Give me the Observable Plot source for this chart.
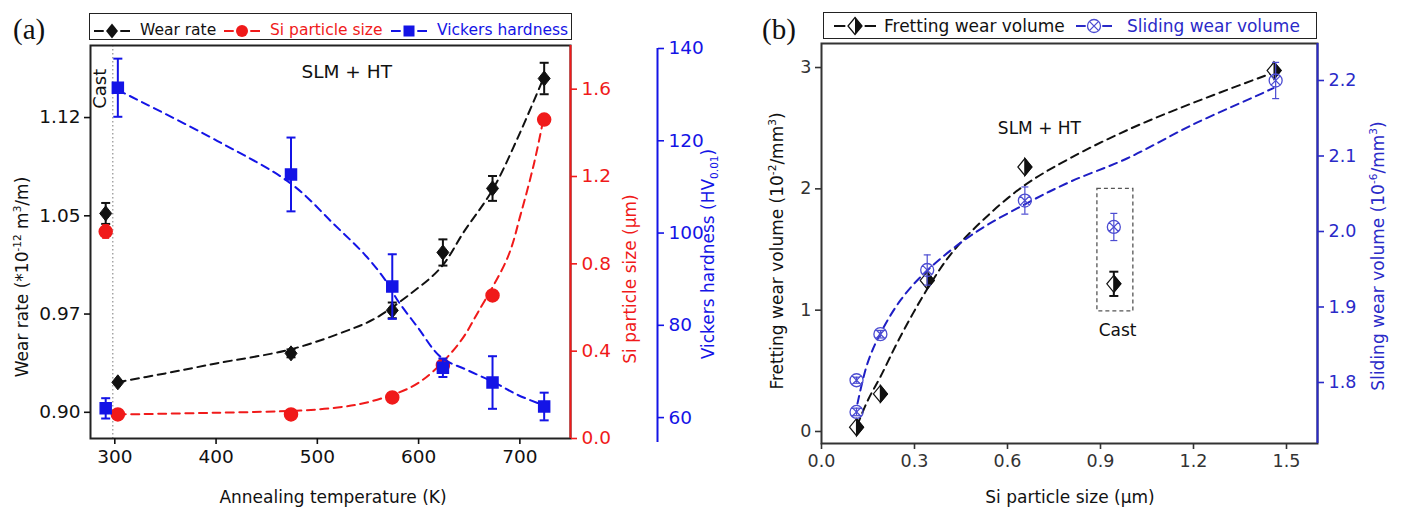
<!DOCTYPE html>
<html><head><meta charset="utf-8">
<script src="https://cdn.jsdelivr.net/npm/d3@7"></script>
<script src="https://cdn.jsdelivr.net/npm/@observablehq/plot@0.6"></script>
<style>
html,body{margin:0;padding:0;background:#fff;}
#root{position:relative;width:1401px;height:517px;overflow:hidden;font-family:"DejaVu Sans",sans-serif;color:#111;}
.layer{position:absolute;top:0;}
.layer svg{overflow:visible;background:transparent;}
.t{position:absolute;white-space:nowrap;line-height:1;}
.rot{transform:translate(-50%,-50%) rotate(-90deg);}
.ctr{transform:translate(-50%,-50%);}
.legend{position:absolute;border:1.6px solid #222;box-sizing:border-box;}
.lt{position:absolute;white-space:nowrap;height:26px;line-height:26px;}
sup,sub{font-size:0.62em;line-height:0;}
.panel{position:absolute;font-family:"Liberation Serif",serif;font-size:29px;line-height:1;}
</style></head><body><div id="root"></div>
<script>
// ---------------- Panel (a) data ----------------
const tempK        = [303, 474, 574, 624, 673, 724];
const wearRate     = [0.9229, 0.945, 0.9778, 1.022, 1.0709, 1.1548];
const wearRateErr  = [0, 0.003, 0.006, 0.010, 0.0095, 0.012];
const siSize       = [0.11, 0.11, 0.188, 0.335, 0.655, 1.461];
const siSizeErr    = [0, 0, 0, 0, 0, 0.02];
const hardness     = [131.5, 112.7, 88.4, 70.8, 67.6, 62.4];
const hardnessErr  = [6.3, 8, 7, 2, 5.7, 3];
const castTemp = 291;
const castWear = [1.0518], castWearErr = [0.008];
const castSi = [0.948], castSiErr = [0.03];
const castHard = [62.0], castHardErr = [2.2];
const castLineTemp = [298];
// dashed fit curves
const wearFitT = [303, 350, 400, 474, 533, 557, 592, 622, 645, 673, 698, 722];
const wearFitV = [0.923, 0.9297, 0.9373, 0.9481, 0.9634, 0.9716, 0.9905, 1.0105, 1.0381, 1.0698, 1.1097, 1.1527];
const siFitT = [303, 400, 483, 520, 549, 592, 615, 642, 658, 688, 701, 714, 723];
const siFitV = [0.11, 0.118, 0.128, 0.142, 0.165, 0.234, 0.31, 0.449, 0.573, 0.83, 1.03, 1.26, 1.457];
const hardFitT = [303, 401, 474, 516, 549, 569, 579, 599, 622, 648, 674, 698, 723];
const hardFitV = [131, 120, 110.7, 102, 94.8, 89.2, 85.5, 79.6, 73.1, 70.3, 67.7, 64.9, 62.7];
// axes (a)
const tempDomain = [276, 750];
const tempTicks = [300, 400, 500, 600, 700];
const wearDomain = [0.88, 1.18];
const wearTicks = [0.900, 0.975, 1.050, 1.125];
const wearTickLabels = ["0.90", "0.97", "1.05", "1.12"];
const sizeDomainA = [0, 1.8];
const sizeTicksA = [0, 0.4, 0.8, 1.2, 1.6];
const hardDomain = [54.6, 140];
const hardTicks = [60, 80, 100, 120, 140];
const annotA = [{label: "SLM + HT", T: 529, v: 1.160}];
const castLabelA = [{label: "Cast", T: 286, v: 1.147}];

// ---------------- Panel (b) data ----------------
const sizeFret   = [0.113, 0.19, 0.341, 0.656, 1.46];
const fretVol    = [0.035, 0.31, 1.245, 2.18, 2.975];
const castSizeB  = [0.943];
const castFret   = [1.217], castFretErr = [0.1];
const sizeSlide  = [0.113, 0.113, 0.19, 0.341, 0.656, 1.465];
const slideVol   = [1.803, 1.761, 1.864, 1.949, 2.041, 2.2];
const slideErr   = [0.004, 0.005, 0.005, 0.02, 0.018, 0.024];
const castSlide  = [2.006], castSlideErr = [0.018];
const fretFitX = [0.115, 0.15, 0.19, 0.25, 0.34, 0.42, 0.52, 0.65, 0.8, 1.0, 1.2, 1.46];
const fretFitV = [0.05, 0.26, 0.45, 0.76, 1.17, 1.47, 1.74, 2.02, 2.25, 2.5, 2.71, 2.96];
const slideFitX = [0.116, 0.148, 0.19, 0.255, 0.34, 0.49, 0.665, 0.803, 0.987, 1.2, 1.416, 1.458];
const slideFitV = [1.772, 1.825, 1.865, 1.909, 1.948, 1.997, 2.038, 2.066, 2.097, 2.142, 2.182, 2.19];
const sizeDomainB = [0, 1.6];
const sizeTicksB = [0, 0.3, 0.6, 0.9, 1.2, 1.5];
const fretDomain = [-0.099, 3.198];
const fretTicks = [0, 1, 2, 3];
const slideDomain = [1.7192, 2.249];
const slideTicks = [1.8, 1.9, 2.0, 2.1, 2.2];
const castBox = [{x1: 0.89, x2: 1.006, y1: 0.99, y2: 2.0}];
const annotB = [{label: "SLM + HT", x: 0.703, v: 2.497}, {label: "Cast", x: 0.955, v: 0.83}];

// ---------------- colours / symbols ----------------
const RED = "#f01a1a", BLUE = "#1414e6", BLK = "#111";
const BLUE_B = "#2a2ac8", BLUE_BM = "#4c4cd2";
const diamondA = {draw(c){c.moveTo(0,-7.5);c.lineTo(6,0);c.lineTo(0,7.5);c.lineTo(-6,0);c.closePath();}};
const squareA  = {draw(c){c.rect(-5.5,-5.5,11,11);}};
const capSym   = {draw(c){c.moveTo(-4.5,0);c.lineTo(4.5,0);}};
const capSmall = {draw(c){c.moveTo(-3.5,0);c.lineTo(3.5,0);}};
const diamondB = {draw(c){c.moveTo(0,-8.5);c.lineTo(7,0);c.lineTo(0,8.5);c.lineTo(-7,0);c.closePath();}};
const halfB    = {draw(c){c.moveTo(0,-8.5);c.lineTo(7,0);c.lineTo(0,8.5);c.closePath();}};
const otimes   = {draw(c){const r=6.5,k=4.6;c.moveTo(r,0);c.arc(0,0,r,0,2*Math.PI);c.moveTo(-k,-k);c.lineTo(k,k);c.moveTo(-k,k);c.lineTo(k,-k);}};

const root = document.getElementById("root");
function addLayer(svg, left){const d=document.createElement("div");d.className="layer";d.style.left=left+"px";d.appendChild(svg);root.appendChild(d);}
function addText(html, x, y, cls, size, color){const d=document.createElement("div");d.className="t "+cls;d.style.left=x+"px";d.style.top=y+"px";d.style.fontSize=size+"px";if(color)d.style.color=color;d.innerHTML=html;root.appendChild(d);}
const styleA = {fontFamily:"DejaVu Sans", fontSize:"18.5px", background:"transparent", overflow:"visible"};
const styleB = {fontFamily:"DejaVu Sans", fontSize:"17.5px", background:"transparent", overflow:"visible"};

// tables
const rows = (xs, vs, es) => xs.map((x,i)=>({x, v: vs[i], e: es ? es[i] : 0}));
const wearData = rows(tempK, wearRate, wearRateErr).concat(rows([castTemp], castWear, castWearErr));
const siData   = rows(tempK, siSize, siSizeErr).concat(rows([castTemp], castSi, castSiErr));
const hardData = rows(tempK, hardness, hardnessErr).concat(rows([castTemp], castHard, castHardErr));
const wearFit = rows(wearFitT, wearFitV), siFit = rows(siFitT, siFitV), hardFit = rows(hardFitT, hardFitV);
const errMarks = (data, color, sw, cap) => {
  const d = data.filter(r => r.e > 0);
  return [
    Plot.ruleX(d, {x:"x", y1: r=>r.v-r.e, y2: r=>r.v+r.e, stroke: color, strokeWidth: sw}),
    Plot.dot(d, {x:"x", y: r=>r.v-r.e, symbol: cap, r: 4, stroke: color, fill:"none", strokeWidth: sw}),
    Plot.dot(d, {x:"x", y: r=>r.v+r.e, symbol: cap, r: 4, stroke: color, fill:"none", strokeWidth: sw})
  ];
};

// ---------------- Panel (a) layers ----------------
const WA = 720, H = 517;
const mA = {marginLeft: 90, marginRight: 150, marginTop: 45, marginBottom: 79};
addLayer(Plot.plot({
  width: WA, height: H, ...mA, style: {...styleA, color: BLK},
  x: {domain: tempDomain}, y: {domain: wearDomain},
  marks: [
    Plot.ruleX(castLineTemp, {stroke:"#999", strokeWidth:1.3, strokeDasharray:"1.5,2.5"}),
    Plot.frame({stroke:"#222", strokeWidth:2}),
    Plot.axisX({ticks: tempTicks, tickSize: 6, tickPadding: 5, strokeWidth: 1.6, label: null, tickFormat: d=>d}),
    Plot.axisY({ticks: wearTicks, tickSize: 6, tickPadding: 4, strokeWidth: 1.6, label: null,
      tickFormat: d => wearTickLabels[wearTicks.indexOf(d)]}),
    Plot.text(castLabelA, {x:"T", y:"v", text:"label", rotate:-90, fontSize:18, fill:BLK}),
    Plot.text(annotA, {x:"T", y:"v", text:"label", fontSize:18.5, fill:BLK}),
    Plot.line(wearFit, {x:"x", y:"v", stroke:BLK, strokeWidth:2, strokeDasharray:"8,5.5", curve:"catmull-rom"}),
    ...errMarks(wearData, BLK, 2, capSym),
    Plot.dot(wearData, {x:"x", y:"v", symbol: diamondA, r: 6, fill: BLK, stroke: BLK, strokeWidth: 1})
  ]
}), 0);
addLayer(Plot.plot({
  width: WA, height: H, ...mA, style: {...styleA, color: RED},
  x: {domain: tempDomain, axis: null}, y: {domain: sizeDomainA},
  marks: [
    Plot.ruleX([tempDomain[1]], {stroke: RED, strokeWidth: 2}),
    Plot.axisY({anchor:"right", ticks: sizeTicksA, tickSize: 6, tickPadding: 5, strokeWidth: 1.6, label: null, tickFormat: d3.format(".1f")}),
    Plot.line(siFit, {x:"x", y:"v", stroke:RED, strokeWidth:2, strokeDasharray:"8,5.5", curve:"catmull-rom"}),
    ...errMarks(siData, RED, 1.6, capSmall),
    Plot.dot(siData, {x:"x", y:"v", r: 6.5, fill: RED, stroke: RED})
  ]
}), 0);
const mAh = {marginLeft: 90, marginRight: 150, marginTop: 48, marginBottom: 75};
addLayer(Plot.plot({
  width: WA, height: H, ...mAh, style: {...styleA, color: BLUE},
  x: {domain: tempDomain, axis: null}, y: {domain: hardDomain, axis: null},
  marks: [
    Plot.line(hardFit, {x:"x", y:"v", stroke:BLUE, strokeWidth:2, strokeDasharray:"8,5.5", curve:"catmull-rom"}),
    ...errMarks(hardData, BLUE, 2, capSym),
    Plot.dot(hardData, {x:"x", y:"v", symbol: squareA, r: 5.5, fill: BLUE, stroke: BLUE})
  ]
}), 0);
addLayer(Plot.plot({
  width: WA, height: H, marginLeft: 0, marginRight: 63, marginTop: 48, marginBottom: 75,
  style: {...styleA, color: BLUE},
  x: {domain: [0, 1], axis: null}, y: {domain: hardDomain},
  marks: [
    Plot.ruleX([1], {y1: hardDomain[0], y2: hardTicks[hardTicks.length-1], stroke: BLUE, strokeWidth: 2}),
    Plot.axisY({anchor:"right", ticks: hardTicks, tickSize: 6, tickPadding: 5, strokeWidth: 1.6, label: null})
  ]
}), 0);

// ---------------- Panel (b) layers ----------------
const WB = 681, LB = 720;
const mB = {marginLeft: 101, marginRight: 84, marginTop: 43, marginBottom: 74};
const fretData = rows(sizeFret, fretVol).concat(rows(castSizeB, castFret, castFretErr));
const slideData = rows(sizeSlide, slideVol, slideErr).concat(rows(castSizeB, castSlide, castSlideErr));
addLayer(Plot.plot({
  width: WB, height: H, ...mB, style: {...styleB, color: "#333"},
  x: {domain: sizeDomainB}, y: {domain: fretDomain},
  marks: [
    Plot.frame({stroke:"#333", strokeWidth:2}),
    Plot.axisX({ticks: sizeTicksB, tickSize: 6, tickPadding: 5, strokeWidth: 1.6, label: null, tickFormat: d3.format(".1f")}),
    Plot.axisY({ticks: fretTicks, tickSize: 6, tickPadding: 4, strokeWidth: 1.6, label: null, tickFormat: d3.format("d")}),
    Plot.rect(castBox, {x1:"x1", x2:"x2", y1:"y1", y2:"y2", fill:"none", stroke:"#555", strokeWidth:1.3, strokeDasharray:"4,3"}),
    Plot.text(annotB, {x:"x", y:"v", text:"label", fontSize:17, fill:BLK}),
    Plot.line(rows(fretFitX, fretFitV), {x:"x", y:"v", stroke:BLK, strokeWidth:2, strokeDasharray:"8,5.5", curve:"catmull-rom"}),
    ...errMarks(fretData, BLK, 2, capSym),
    Plot.dot(fretData, {x:"x", y:"v", symbol: diamondB, r: 7, fill:"#fff", stroke: BLK, strokeWidth: 1.2}),
    Plot.dot(fretData, {x:"x", y:"v", symbol: halfB, r: 7, fill: BLK, stroke: BLK, strokeWidth: 1.2})
  ]
}), LB);
addLayer(Plot.plot({
  width: WB, height: H, ...mB, style: {...styleB, color: BLUE_B},
  x: {domain: sizeDomainB, axis: null}, y: {domain: slideDomain},
  marks: [
    Plot.ruleX([sizeDomainB[1]], {stroke: BLUE_B, strokeWidth: 2}),
    Plot.axisY({anchor:"right", ticks: slideTicks, tickSize: 6, tickPadding: 5, strokeWidth: 1.6, label: null, tickFormat: d3.format(".1f")}),
    Plot.line(rows(slideFitX, slideFitV), {x:"x", y:"v", stroke:"#1e1ec4", strokeWidth:2, strokeDasharray:"8,5.5", curve:"catmull-rom"}),
    ...errMarks(slideData, BLUE_BM, 1.2, capSmall),
    Plot.dot(slideData, {x:"x", y:"v", symbol: otimes, r: 6.5, fill:"none", stroke: BLUE_BM, strokeWidth: 1.3})
  ]
}), LB);

// ---------------- texts ----------------
function panelLabel(txt, l, t){const d=document.createElement("div");d.className="panel";d.style.left=l+"px";d.style.top=t+"px";d.textContent=txt;root.appendChild(d);}
panelLabel("(a)", 13, 15);
panelLabel("(b)", 762, 15);

addText("Wear rate (*10<sup>-12</sup> m<sup>3</sup>/m)", 22, 277, "rot", 17, BLK);
addText("Annealing temperature (K)", 333, 497, "ctr", 17, BLK);
addText("Si particle size (μm)", 630, 279, "rot", 17, RED);
addText("Vickers hardness (HV<sub>0.01</sub>)", 708, 254, "rot", 17, BLUE);
addText("Fretting wear volume (10<sup>-2</sup>/mm<sup>3</sup>)", 777, 251, "rot", 17, BLK);
addText("Si particle size (μm)", 1070, 497, "ctr", 17, BLK);
addText("Sliding wear volume (10<sup>-6</sup>/mm<sup>3</sup>)", 1378, 256, "rot", 17, BLUE_B);

// ---------------- legends ----------------
function box(l,t,w,h){const d=document.createElement("div");d.className="legend";Object.assign(d.style,{left:l+"px",top:t+"px",width:w+"px",height:h+"px"});root.appendChild(d);}
function swatch(l, cy, w, color, markerSvg){
  const ns="http://www.w3.org/2000/svg";const s=document.createElementNS(ns,"svg");
  s.setAttribute("width",w);s.setAttribute("height",24);s.style.position="absolute";s.style.left=l+"px";s.style.top=(cy-12)+"px";
  s.innerHTML=`<line x1="0" x2="${w*0.27}" y1="12" y2="12" stroke="${color}" stroke-width="2"/><line x1="${w*0.73}" x2="${w}" y1="12" y2="12" stroke="${color}" stroke-width="2"/><g transform="translate(${w/2},12)">${markerSvg}</g>`;
  root.appendChild(s);
}
function ltext(txt, l, cy, size, color){const d=document.createElement("div");d.className="lt";d.style.left=l+"px";d.style.top=(cy-13)+"px";d.style.fontSize=size+"px";d.style.color=color;d.textContent=txt;root.appendChild(d);}
box(89, 13, 483, 27);
swatch(94, 31, 36, BLK, `<path d="M0,-7.5L6,0L0,7.5L-6,0Z" fill="${BLK}"/>`);
ltext("Wear rate", 140, 30, 15.5, BLK);
swatch(224, 31, 36, RED, `<circle r="6" fill="${RED}"/>`);
ltext("Si particle size", 270, 30, 15.5, RED);
swatch(391, 31, 36, BLUE, `<rect x="-5.5" y="-5.5" width="11" height="11" fill="${BLUE}"/>`);
ltext("Vickers hardness", 437, 30, 15.5, BLUE);

box(823, 12, 494, 27);
swatch(834, 26, 42, BLK, `<path d="M0,-8.5L7,0L0,8.5L-7,0Z" fill="#fff" stroke="${BLK}" stroke-width="1.3"/><path d="M0,-8.5L7,0L0,8.5Z" fill="${BLK}"/>`);
ltext("Fretting wear volume", 884, 26, 17, BLK);
swatch(1076, 26, 36, BLUE_B, `<circle r="6.5" fill="#fff" stroke="${BLUE_BM}" stroke-width="1.3"/><path d="M-4.6,-4.6L4.6,4.6M-4.6,4.6L4.6,-4.6" stroke="${BLUE_BM}" stroke-width="1.3"/>`);
ltext("Sliding wear volume", 1127, 26, 17, BLUE_B);
</script></body></html>
